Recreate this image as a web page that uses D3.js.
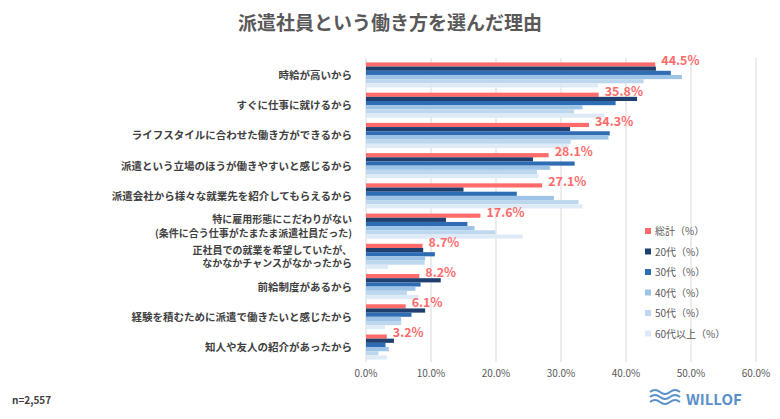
<!DOCTYPE html><html><head><meta charset="utf-8"><script src="https://cdn.jsdelivr.net/npm/d3@7"></script>
<style>body{margin:0;background:#fff}text{font-family:"Noto Sans CJK JP","Noto Sans",sans-serif}</style></head><body><svg id="c" width="780" height="419"></svg><script>
const categories=["時給が高いから","すぐに仕事に就けるから","ライフスタイルに合わせた働き方ができるから","派遣という立場のほうが働きやすいと感じるから","派遣会社から様々な就業先を紹介してもらえるから","特に雇用形態にこだわりがない\n(条件に合う仕事がたまたま派遣社員だった)","正社員での就業を希望していたが、\nなかなかチャンスがなかったから","前給制度があるから","経験を積むために派遣で働きたいと感じたから","知人や友人の紹介があったから"];
const seriesNames=["総計（%）","20代（%）","30代（%）","40代（%）","50代（%）","60代以上（%）"];
const total=[44.5,35.8,34.3,28.1,27.1,17.6,8.7,8.2,6.1,3.2];
const age20=[44.6,41.7,31.4,25.7,15.0,12.3,8.8,11.5,9.1,4.3];
const age30=[46.9,38.4,37.5,32.1,23.2,15.6,10.6,8.4,7.0,3.0];
const age40=[48.6,33.3,37.3,28.3,28.9,16.7,9.1,7.6,5.4,3.5];
const age50=[42.7,32.0,31.5,26.3,32.7,19.9,9.0,6.3,5.4,1.9];
const age60=[35.7,36.7,31.2,26.6,33.3,24.1,3.4,8.1,2.9,3.2];
const xTicks=[0,10,20,30,40,50,60];
const colors=["#FF6B6B","#1F3F6E","#2E6DB4","#9DC3E6","#BDD7EE","#DEEBF7"];
const series=[total,age20,age30,age40,age50,age60];
const svg=d3.select("#c");
const x=d3.scaleLinear().domain([0,60]).range([366,756]);
const y=d3.scaleBand().domain(categories).range([60,362]).paddingInner(0.17).paddingOuter(0.08);
const sub=d3.scaleBand().domain(d3.range(6)).range([0,y.bandwidth()]);
svg.append("text").attr("x",390).attr("y",30).attr("text-anchor","middle").attr("font-size",19).attr("font-weight","bold").attr("fill","#595959").text("派遣社員という働き方を選んだ理由");
svg.append("g").selectAll("line").data(xTicks).join("line").attr("x1",d=>x(d)).attr("x2",d=>x(d)).attr("y1",58).attr("y2",362).attr("stroke","#d9d9d9");
svg.append("g").selectAll("text").data(xTicks).join("text").attr("x",d=>x(d)).attr("y",377).attr("text-anchor","middle").attr("font-size",10).attr("fill","#595959").text(d=>d.toFixed(1)+"%");
series.forEach((s,i)=>{svg.append("g").selectAll("rect").data(categories).join("rect").attr("x",x(0)).attr("y",(c)=>y(c)+sub(i)).attr("height",sub.bandwidth()).attr("width",(c,j)=>x(s[j])-x(0)).attr("fill",colors[i]);});
svg.append("g").selectAll("text").data(categories).join("text").attr("x",(c,j)=>x(total[j])+6).attr("y",c=>y(c)+3).attr("font-size",12.5).attr("font-weight","bold").attr("fill","#FF6B6B").text((c,j)=>total[j].toFixed(1)+"%");
const labG=svg.append("g");
categories.forEach(c=>{const lines=c.split("\n");const cy=y(c)+y.bandwidth()/2;const fs=lines.length>1?10:10.5;
lines.forEach((l,k)=>labG.append("text").attr("text-anchor","end").attr("font-size",fs).attr("font-weight","bold").attr("fill","#404040").attr("x",352).attr("y",cy+4+(k-(lines.length-1)/2)*13.5).text(l));});
const lg=svg.append("g").selectAll("g").data(seriesNames).join("g").attr("transform",(d,i)=>`translate(645,${232+i*20.5})`);
lg.append("rect").attr("width",6).attr("height",6).attr("y",-4).attr("fill",(d,i)=>colors[i]);
lg.append("text").attr("x",10).attr("y",3).attr("font-size",10).attr("fill","#595959").text(d=>d);
svg.append("text").attr("x",12).attr("y",404).attr("font-size",10).attr("font-weight","bold").attr("fill","#404040").text("n=2,557");
const lo=svg.append("g").attr("transform","translate(650,392)");
[0,5,10].forEach(o=>lo.append("path").attr("d",`M0 ${o} q5 -4 10 0 t10 0 t10 0`).attr("fill","none").attr("stroke","#5b8fc9").attr("stroke-width",2));
lo.append("text").attr("x",36).attr("y",13).attr("font-size",15).attr("font-weight","bold").attr("fill","#5b8fc9").text("WILLOF");
</script></body></html>
